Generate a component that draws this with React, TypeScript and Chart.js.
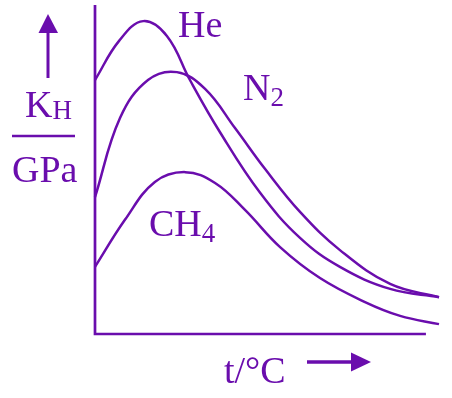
import React, { useEffect, useRef } from "react";
import { Chart, registerables } from "chart.js";

Chart.register(...registerables);

// Schematic temperature axis (arbitrary units, 0–100) and Henry's constant (arbitrary units)
const heX = [0, 7.0, 14.0, 20.9, 27.6, 36.3, 48.0, 59.6, 71.2, 85.8, 100];
const heY = [77.2, 89.1, 95.1, 90.6, 77.2, 61.4, 42.9, 29.2, 20.4, 13.7, 11.2];

const n2X = [0, 7.3, 15.4, 23.8, 32.0, 40.7, 49.4, 59.6, 71.2, 85.8, 100];
const n2Y = [41.6, 65.7, 77.2, 79.6, 74.5, 62.6, 50.2, 37.1, 25.5, 15.2, 11.2];

const ch4X = [0, 8.7, 17.4, 26.2, 34.9, 43.6, 53.8, 65.4, 78.5, 88.7, 100];
const ch4Y = [20.4, 34.7, 46.2, 49.2, 45.9, 37.7, 26.4, 17.0, 9.7, 5.5, 3.0];

const seriesNames = ["He", "N₂", "CH₄"];
const xAxisLabel = "t/°C";
const yAxisTop = "K";
const yAxisTopSub = "H";
const yAxisBottom = "GPa";

const PURPLE = "#6a0dad";
const X_AXIS_END = 96.2;

const toPts = (xs: number[], ys: number[]) => xs.map((x, i) => ({ x, y: ys[i] }));

const decorPlugin = {
  id: "decor",
  afterDatasetsDraw(chart: any) {
    const ctx = chart.ctx as CanvasRenderingContext2D;
    const xs = chart.scales.x;
    const ys = chart.scales.y;
    const x0 = xs.getPixelForValue(0);
    const y0 = ys.getPixelForValue(0);
    const yTop = ys.getPixelForValue(100);
    const xEnd = xs.getPixelForValue(X_AXIS_END);
    ctx.save();
    ctx.strokeStyle = PURPLE;
    ctx.fillStyle = PURPLE;
    ctx.lineWidth = 2.7;
    ctx.lineCap = "butt";
    // axes
    ctx.beginPath();
    ctx.moveTo(x0, yTop);
    ctx.lineTo(x0, y0);
    ctx.lineTo(xEnd, y0);
    ctx.stroke();

    const font = (s: number) => `${s}px "Liberation Serif", "Times New Roman", serif`;
    ctx.textBaseline = "alphabetic";
    ctx.textAlign = "left";

    const sub = (main: string, subTxt: string, x: number, y: number, subDy: number) => {
      ctx.font = font(38);
      ctx.fillText(main, x, y);
      const w = ctx.measureText(main).width;
      ctx.font = font(27);
      ctx.fillText(subTxt, x + w, y + subDy);
    };

    // series labels
    ctx.font = font(38);
    ctx.fillText(seriesNames[0], 178, 37);
    sub("N", "2", 243, 100, 6);
    sub("CH", "4", 149, 236, 6);

    // y axis label (fraction)
    sub(yAxisTop, yAxisTopSub, 25, 117, 2);
    ctx.lineWidth = 2.5;
    ctx.beginPath();
    ctx.moveTo(12, 136);
    ctx.lineTo(75, 136);
    ctx.stroke();
    ctx.font = font(38);
    ctx.fillText(yAxisBottom, 12, 182);

    // x axis label
    ctx.fillText(xAxisLabel, 224, 383);

    // up arrow
    ctx.lineWidth = 3;
    ctx.beginPath();
    ctx.moveTo(48, 78);
    ctx.lineTo(48, 30);
    ctx.stroke();
    ctx.beginPath();
    ctx.moveTo(48, 14);
    ctx.lineTo(58, 33);
    ctx.lineTo(38.5, 33);
    ctx.closePath();
    ctx.fill();

    // right arrow
    ctx.lineWidth = 3.5;
    ctx.beginPath();
    ctx.moveTo(307, 362);
    ctx.lineTo(355, 362);
    ctx.stroke();
    ctx.beginPath();
    ctx.moveTo(371, 362);
    ctx.lineTo(351, 352.5);
    ctx.lineTo(351, 371.5);
    ctx.closePath();
    ctx.fill();
    ctx.restore();
  },
};

export default function App() {
  const ref = useRef<HTMLCanvasElement | null>(null);
  useEffect(() => {
    if (!ref.current) return;
    const mk = (label: string, xs: number[], ys: number[]) => ({
      label,
      data: toPts(xs, ys),
      borderColor: PURPLE,
      borderWidth: 2.5,
      pointRadius: 0,
      fill: false,
      tension: 0.4,
      clip: false as any,
    });
    const chart = new Chart(ref.current, {
      type: "line",
      data: {
        datasets: [mk(seriesNames[0], heX, heY), mk(seriesNames[1], n2X, n2Y), mk(seriesNames[2], ch4X, ch4Y)],
      },
      options: {
        animation: false,
        responsive: false,
        devicePixelRatio: 1,
        events: [],
        layout: { padding: { left: 95, top: 5, right: 13, bottom: 64 } },
        plugins: { legend: { display: false }, tooltip: { enabled: false } },
        scales: {
          x: { type: "linear", min: 0, max: 100, display: false },
          y: { type: "linear", min: 0, max: 100, display: false },
        },
      },
      plugins: [decorPlugin],
    });
    return () => chart.destroy();
  }, []);
  return (
    <div style={{ position: "fixed", left: 0, top: 0, width: 452, height: 398, background: "#fff" }}>
      <canvas ref={ref} width={452} height={398} style={{ display: "block" }} />
    </div>
  );
}
